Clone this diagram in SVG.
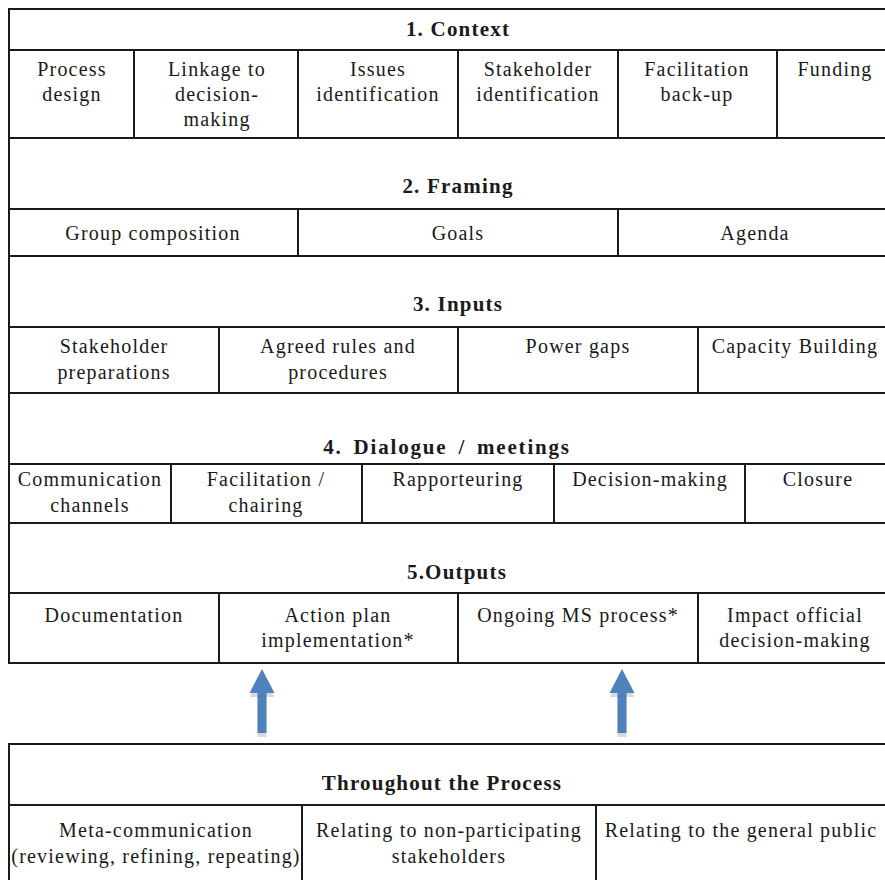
<svg xmlns="http://www.w3.org/2000/svg" width="885" height="880" viewBox="0 0 885 880">
  <style>
    .bg { fill: #ffffff; }
    .rule { stroke: #1a1a1a; stroke-width: 2; fill: none; }
    text { font-family: "Liberation Serif", "Times New Roman", serif; fill: #1a1a1a; text-anchor: middle; }
    .cell { font-size: 20px; letter-spacing: 1.2px; }
    .head { font-size: 21px; font-weight: bold; letter-spacing: 1.2px; }
    .wide { letter-spacing: 1.8px; word-spacing: 4px; }
    .arrow { fill: #4f81bd; }
    .shadow { fill: #d9d9d9; }
  </style>
  <defs>
    <!-- block up-arrow, tip at origin -->
    <polygon id="uparrow" points="0,0 12.5,24 4.5,24 4.5,64 -4.5,64 -4.5,24 -12.5,24"/>
  </defs>
  <rect class="bg" x="0" y="0" width="885" height="880"/>

  <!-- table rules -->
  <g id="grid" class="rule">
    <path d="M9,9 H885 M9,8 V663"/>
    <path d="M9,50 H885 M9,138 H885 M9,209 H885 M9,256 H885 M9,327 H885 M9,393 H885 M9,464 H885 M9,523 H885 M9,593 H885 M8,663 H885"/>
    <path d="M134,50 V138 M298,50 V138 M458,50 V138 M618,50 V138 M777,50 V138"/>
    <path d="M298,209 V256 M618,209 V256"/>
    <path d="M219,327 V393 M458,327 V393 M698,327 V393"/>
    <path d="M171,464 V523 M362,464 V523 M554,464 V523 M745,464 V523"/>
    <path d="M219,593 V663 M458,593 V663 M698,593 V663"/>
    <path d="M9,744 H885 M9,743 V880 M9,805 H885 M302,805 V880 M596,805 V880"/>
  </g>

  <!-- 1. Context -->
  <g id="context">
    <text class="head" x="458" y="36">1. Context</text>
    <g id="process-design"><text class="cell" x="72" y="76">Process</text><text class="cell" x="72" y="101">design</text></g>
    <g id="linkage"><text class="cell" x="217" y="76">Linkage to</text><text class="cell" x="217" y="101">decision-</text><text class="cell" x="217" y="126">making</text></g>
    <g id="issues"><text class="cell" x="378" y="76">Issues</text><text class="cell" x="378" y="101">identification</text></g>
    <g id="stakeholder-id"><text class="cell" x="538" y="76">Stakeholder</text><text class="cell" x="538" y="101">identification</text></g>
    <g id="facilitation-backup"><text class="cell" x="697" y="76">Facilitation</text><text class="cell" x="697" y="101">back-up</text></g>
    <g id="funding"><text class="cell" x="835" y="76">Funding</text></g>
  </g>

  <!-- 2. Framing -->
  <g id="framing">
    <text class="head" x="458" y="193">2. Framing</text>
    <g id="group-composition"><text class="cell" x="153" y="240">Group composition</text></g>
    <g id="goals"><text class="cell" x="458" y="240">Goals</text></g>
    <g id="agenda"><text class="cell" x="755" y="240">Agenda</text></g>
  </g>

  <!-- 3. Inputs -->
  <g id="inputs">
    <text class="head" x="458" y="311">3. Inputs</text>
    <g id="stakeholder-prep"><text class="cell" x="114" y="353">Stakeholder</text><text class="cell" x="114" y="379">preparations</text></g>
    <g id="rules"><text class="cell" x="338" y="353">Agreed rules and</text><text class="cell" x="338" y="379">procedures</text></g>
    <g id="power-gaps"><text class="cell" x="578" y="353">Power gaps</text></g>
    <g id="capacity"><text class="cell" x="795" y="353">Capacity Building</text></g>
  </g>

  <!-- 4. Dialogue / meetings -->
  <g id="dialogue">
    <text class="head wide" x="447" y="454">4. Dialogue / meetings</text>
    <g id="channels"><text class="cell" x="90" y="486">Communication</text><text class="cell" x="90" y="512">channels</text></g>
    <g id="chairing"><text class="cell" x="266" y="486">Facilitation /</text><text class="cell" x="266" y="512">chairing</text></g>
    <g id="rapporteuring"><text class="cell" x="458" y="486">Rapporteuring</text></g>
    <g id="decision-making"><text class="cell" x="650" y="486">Decision-making</text></g>
    <g id="closure"><text class="cell" x="818" y="486">Closure</text></g>
  </g>

  <!-- 5. Outputs -->
  <g id="outputs">
    <text class="head" x="457" y="579">5.Outputs</text>
    <g id="documentation"><text class="cell" x="114" y="622">Documentation</text></g>
    <g id="action-plan"><text class="cell" x="338" y="622">Action plan</text><text class="cell" x="338" y="647">implementation*</text></g>
    <g id="ongoing"><text class="cell" x="578" y="622">Ongoing MS process*</text></g>
    <g id="impact"><text class="cell" x="795" y="622">Impact official</text><text class="cell" x="795" y="647">decision-making</text></g>
  </g>

  <!-- feedback arrows -->
  <g id="connectors">
    <use href="#uparrow" class="shadow" x="262" y="673"/>
    <use href="#uparrow" class="arrow" x="262" y="669"/>
    <use href="#uparrow" class="shadow" x="622" y="673"/>
    <use href="#uparrow" class="arrow" x="622" y="669"/>
  </g>

  <!-- Throughout the Process -->
  <g id="throughout">
    <text class="head" x="442" y="790">Throughout the Process</text>
    <g id="meta"><text class="cell" x="156" y="837">Meta-communication</text><text class="cell" x="156" y="863">(reviewing, refining, repeating)</text></g>
    <g id="non-participating"><text class="cell" x="449" y="837">Relating to non-participating</text><text class="cell" x="449" y="863">stakeholders</text></g>
    <g id="public"><text class="cell" x="741" y="837">Relating to the general public</text></g>
  </g>
</svg>
